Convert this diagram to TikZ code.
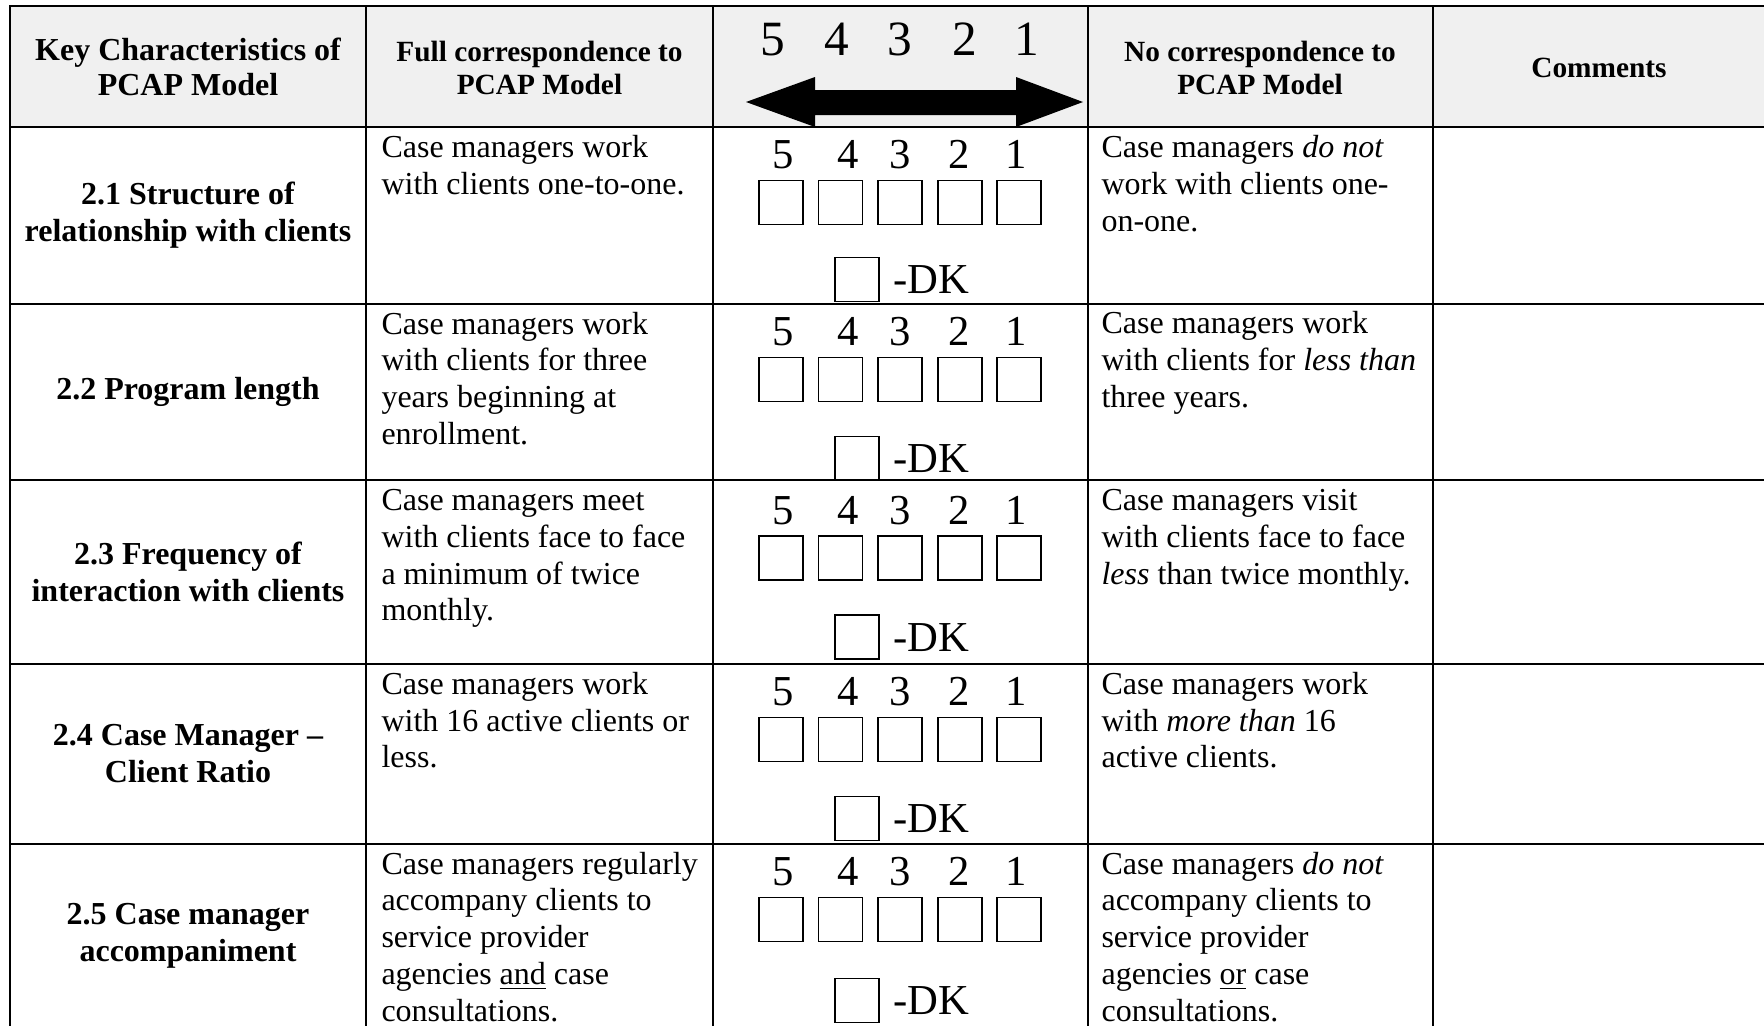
\documentclass[tikz,border=0pt]{standalone}
\usepackage{fontspec}
\setmainfont{Liberation Serif}
\definecolor{hdrgray}{RGB}{240,240,240}
\tikzset{
  gridline/.style={line width=0.75pt, black, line cap=rect},
  hdrtext/.style={font=\fontsize{12}{13.2}\selectfont\bfseries, align=center, inner sep=0pt},
  hdrsmall/.style={font=\fontsize{11}{12.65}\selectfont\bfseries, align=center, inner sep=0pt},
  titletext/.style={font=\fontsize{12}{13.8}\selectfont\bfseries, align=center, inner sep=0pt},
  celltext/.style={font=\fontsize{12}{13.8}\selectfont, align=left, anchor=north west, inner sep=0pt},
  bigdigit/.style={font=\fontsize{18.5}{20}\selectfont, anchor=base, inner sep=0pt},
  digit/.style={font=\fontsize{16}{18}\selectfont, anchor=base, inner sep=0pt},
  dklabel/.style={font=\fontsize{16}{18}\selectfont, anchor=base west, inner sep=0pt},
  tickbox/.style={draw=black, line width=0.45pt},
  arrowfill/.style={fill=black}
}
\begin{document}
\begin{tikzpicture}[x=0.375pt,y=-0.375pt]
\path[use as bounding box] (0,0) rectangle (1764,1025);
\clip (0,0) rectangle (1764,1025);
% header background
\fill[hdrgray] (9.5,5.6) rectangle (1766,127.3);
% double arrow in header
\fill[arrowfill] (746,102) -- (815,77) -- (815,90) -- (1016,90) -- (1016,77) -- (1083,102)
  -- (1016,127) -- (1016,115) -- (815,115) -- (815,127) -- cycle;
% header digits
\foreach \d/\x in {5/773,4/837,3/900,2/965,1/1027}
  \node[bigdigit] (h\d) at (\x,55) {\d};
% header texts
\node[hdrtext] (hk) at (188,67) {Key Characteristics of\\PCAP Model};
\node[hdrsmall] (hf) at (539.5,68) {Full correspondence to\\PCAP Model};
\node[hdrsmall] (hn) at (1260,68) {No correspondence to\\PCAP Model};
\node[hdrsmall] (hc) at (1599,68) {Comments};
% scale cells
\foreach \r/\top/\bx/\dk in {1/127.3/53/130, 2/303.5/54/133, 3/480/56/135, 4/663.7/54/133, 5/843.6/54/135}{
  \foreach \d/\x in {5/783,4/848,3/900,2/959,1/1016}
    \node[digit] (d\r-\d) at (\x,{\top+\bx-12}) {\d};
  \foreach \bxl in {759,818.5,878,938,997}
    \draw[tickbox] (\bxl,{\top+\bx}) rectangle ++(44,44);
  \draw[tickbox] (835,{\top+\dk}) rectangle ++(44,44);
  \node[dklabel] (dk\r) at (893,{\top+\dk+36}) {-DK};
}
% row titles
\node[titletext] (t1) at (188,215.4) {2.1 Structure of\\relationship with clients};
\node[titletext] (t2) at (188,391.7) {2.2 Program length};
\node[titletext] (t3) at (188,571.8) {2.3 Frequency of\\interaction with clients};
\node[titletext] (t4) at (188,753.6) {2.4 Case Manager \textendash\\Client Ratio};
\node[titletext] (t5) at (188,935.5) {2.5 Case manager\\accompaniment};
% full correspondence texts
\node[celltext] (f1) at (381,131.5) {\strut Case managers work\\with clients one-to-one.};
\node[celltext] (f2) at (381,307.7) {\strut Case managers work\\with clients for three\\years beginning at\\enrollment.};
\node[celltext] (f3) at (381,484.2) {\strut Case managers meet\\with clients face to face\\a minimum of twice\\monthly.};
\node[celltext] (f4) at (381,667.9) {\strut Case managers work\\with 16 active clients or\\less.};
\node[celltext] (f5) at (381,847.8) {\strut Case managers regularly\\accompany clients to\\service provider\\agencies \underline{and} case\\consultations.};
% no correspondence texts
\node[celltext] (n1) at (1101,131.5) {\strut Case managers \textit{do not}\\work with clients one-\\on-one.};
\node[celltext] (n2) at (1101,307.7) {\strut Case managers work\\with clients for \textit{less than}\\three years.};
\node[celltext] (n3) at (1101,484.2) {\strut Case managers visit\\with clients face to face\\\textit{less} than twice monthly.};
\node[celltext] (n4) at (1101,667.9) {\strut Case managers work\\with \textit{more than} 16\\active clients.};
\node[celltext] (n5) at (1101,847.8) {\strut Case managers \textit{do not}\\accompany clients to\\service provider\\agencies \underline{or} case\\consultations.};
% grid
\foreach \yy in {5.6,127.3,303.5,480,663.7,843.6,1027.4}
  \draw[gridline] (9.5,\yy) -- (1766,\yy);
\foreach \xx in {9.5,366,713,1087.5,1433}
  \draw[gridline] (\xx,5.6) -- (\xx,1027.4);
\end{tikzpicture}
\end{document}
